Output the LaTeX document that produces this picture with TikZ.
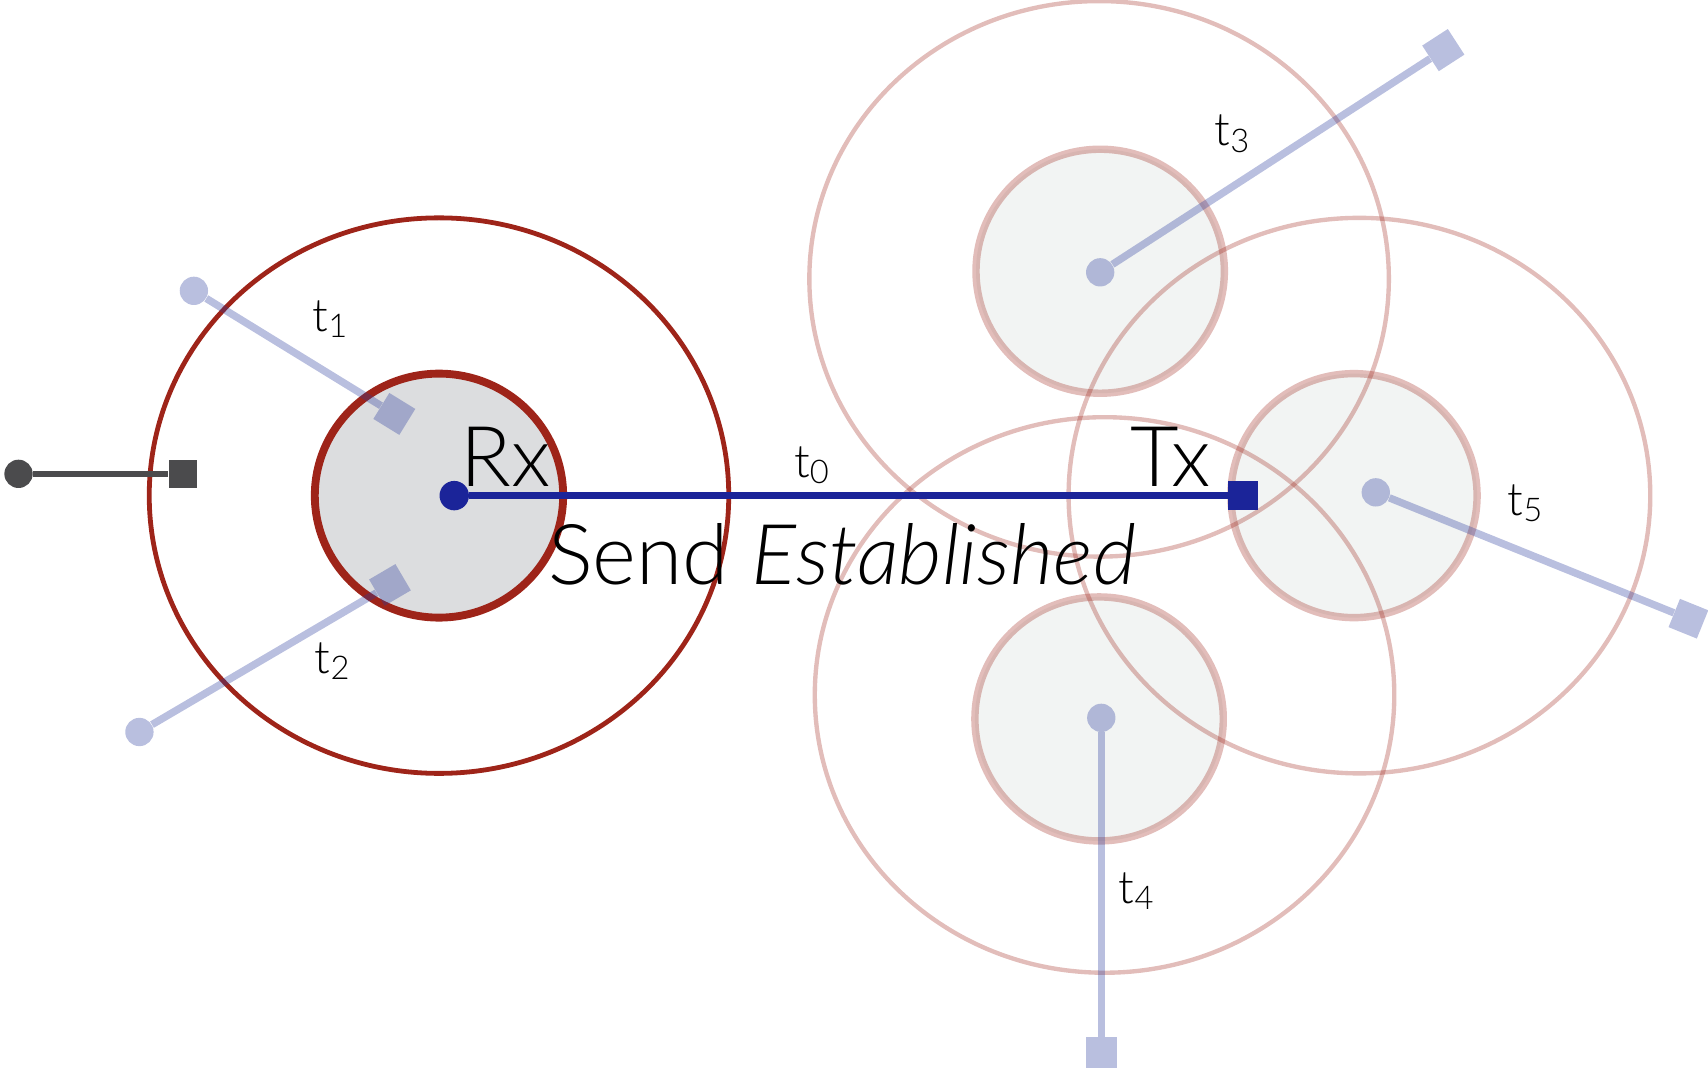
\documentclass[tikz,border=0pt]{standalone}
\usepackage{fontspec}
\setmainfont{Lato}[UprightFont=* Light, ItalicFont=* Light Italic]
\definecolor{dred}{HTML}{9E2419}
\definecolor{dblue}{HTML}{1B2499}
\definecolor{dgray}{HTML}{4B4B4D}
\definecolor{lfill}{HTML}{DCDDDF}
\definecolor{pfill}{HTML}{F2F4F3}
\definecolor{lblue}{HTML}{2A3C9E}
\tikzset{
  outerc/.style={draw=dred, line width=2.2pt},
  innerc/.style={draw=dred, line width=3.6pt, fill=lfill},
  fouter/.style={draw=dred, draw opacity=0.3, line width=2pt},
  finner/.style={draw=dred, draw opacity=0.3, line width=3.4pt},
  ffill/.style={fill=pfill},
  fline/.style={draw=lblue, draw opacity=0.33, line width=3.4pt},
  fdot/.style={circle, fill=lblue, fill opacity=0.33, inner sep=0pt, minimum size=13pt},
  fsq/.style={rectangle, fill=lblue, fill opacity=0.33, inner sep=0pt, minimum size=14pt},
  lab/.style={font=\fontsize{21}{21}\selectfont, inner sep=0pt},
  big/.style={font=\fontsize{38.5}{38.5}\selectfont, inner sep=0pt},
}
\newcommand{\tl}[1]{t\raisebox{-3pt}{\fontsize{15}{15}\selectfont #1}}
\begin{document}
\begin{tikzpicture}[x=0.5pt,y=-0.5pt]
\useasboundingbox (0,0) rectangle (1568,983);
% faded fills
\fill[pfill] (1010,249) ellipse [x radius=114, y radius=112];
\fill[pfill] (1243,455) ellipse [x radius=113, y radius=112];
\fill[pfill] (1009,660) ellipse [x radius=114, y radius=112];
% faded outer circles
\draw[fouter] (1009,256) ellipse [x radius=266, y radius=255];
\draw[fouter] (1248,455) ellipse [x radius=267, y radius=255];
\draw[fouter] (1014,638) ellipse [x radius=266, y radius=255];
% faded inner circles
\draw[finner] (1010,249) ellipse [x radius=114, y radius=112];
\draw[finner] (1243,455) ellipse [x radius=113, y radius=112];
\draw[finner] (1009,660) ellipse [x radius=114, y radius=112];
% left circles
\draw[outerc] (403,455) ellipse [x radius=266, y radius=255];
\draw[innerc] (403,455) ellipse [x radius=114, y radius=112];
% faded connectors
\node[fdot] (d1) at (178,267) {};
\node[fsq, rotate=-31.6] (s1) at (362,380) {};
\draw[fline] (d1) -- (s1);
\node[fdot] (d2) at (128,672) {};
\node[fsq, rotate=30.4] (s2) at (358,537) {};
\draw[fline] (d2) -- (s2);
\node[fdot] (d3) at (1010,250) {};
\node[fsq, rotate=32.9] (s3) at (1325,46) {};
\draw[fline] (d3) -- (s3);
\node[fdot] (d4) at (1011,659) {};
\node[fsq] (s4) at (1011,966) {};
\draw[fline] (d4) -- (s4);
\node[fdot] (d5) at (1263,452) {};
\node[fsq, rotate=-22] (s5) at (1550,568) {};
\draw[fline] (d5) -- (s5);
% gray connector
\node[circle, fill=dgray, inner sep=0pt, minimum size=13pt] (gd) at (17,435) {};
\node[rectangle, fill=dgray, inner sep=0pt, minimum size=13pt] (gs) at (168,435) {};
\draw[dgray, line width=3pt] (gd) -- (gs);
% main link
\node[circle, fill=dblue, inner sep=0pt, minimum size=13.5pt] (rx) at (417,455) {};
\node[rectangle, fill=dblue, inner sep=0pt, minimum size=13.5pt] (tx) at (1141,455) {};
\draw[dblue, line width=3.4pt] (rx) -- (tx);
% labels
\node[big, anchor=base west] (rxl) at (422,447) {Rx};
\node[big, anchor=base east] (txl) at (1112,447) {Tx};
\node[big, anchor=base west] (se) at (503,537) {Send \textit{Established}};
\node[lab] (l0) at (745,427) {\tl{0}};
\node[lab] (l1) at (303,293) {\tl{1}};
\node[lab] (l2) at (305,607) {\tl{2}};
\node[lab] (l3) at (1131,123) {\tl{3}};
\node[lab] (l4) at (1043,818) {\tl{4}};
\node[lab] (l5) at (1400,462) {\tl{5}};
\end{tikzpicture}
\end{document}
